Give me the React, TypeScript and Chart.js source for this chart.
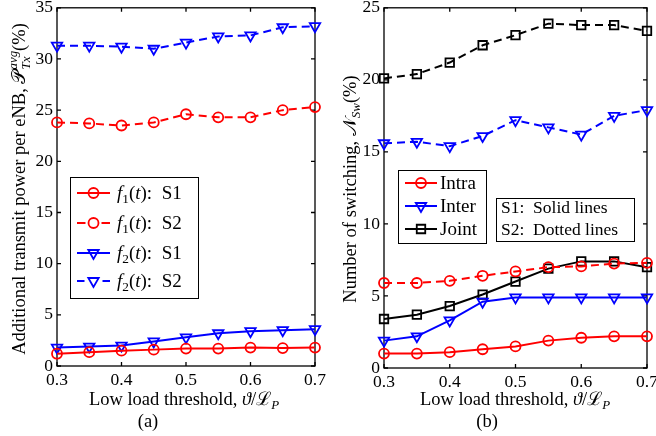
import React, { useEffect, useRef } from 'react';
import { Chart, registerables } from 'chart.js';

Chart.register(...registerables);

// ---------- data ----------
const thresholds = [0.3, 0.35, 0.4, 0.45, 0.5, 0.55, 0.6, 0.65, 0.7];
const xTickValues = [0.3, 0.4, 0.5, 0.6, 0.7];
const yTicksA = [0, 5, 10, 15, 20, 25, 30, 35];
const yTicksB = [0, 5, 10, 15, 20, 25];

// panel (a): additional transmit power per eNB (%)
const f1S1 = [1.2, 1.35, 1.5, 1.6, 1.7, 1.7, 1.8, 1.75, 1.8];
const f1S2 = [23.8, 23.7, 23.5, 23.8, 24.6, 24.3, 24.3, 25.0, 25.3];
const f2S1 = [1.8, 1.9, 2.0, 2.4, 2.8, 3.2, 3.4, 3.5, 3.6];
const f2S2 = [31.3, 31.3, 31.2, 31.0, 31.6, 32.2, 32.3, 33.1, 33.2];

// panel (b): number of switching (%)
const intraS1 = [1.0, 1.0, 1.1, 1.3, 1.5, 1.9, 2.1, 2.2, 2.2];
const intraS2 = [5.9, 5.9, 6.05, 6.4, 6.7, 7.0, 7.05, 7.25, 7.3];
const interS1 = [1.9, 2.2, 3.3, 4.6, 4.9, 4.9, 4.9, 4.9, 4.9];
const interS2 = [15.6, 15.7, 15.4, 16.1, 17.2, 16.7, 16.2, 17.5, 17.9];
const jointS1 = [3.4, 3.7, 4.3, 5.1, 6.0, 6.9, 7.4, 7.4, 7.0];
const jointS2 = [20.1, 20.4, 21.2, 22.4, 23.1, 23.9, 23.8, 23.8, 23.4];

// ---------- styling ----------
const FAM = "'Liberation Serif', 'DejaVu Serif', serif";
const RED = '#ff0000';
const BLUE = '#0000ff';
const BLACK = '#000000';
const DASH = [8, 5];
const TICK_FONT = 17.5;
const TITLE_FONT = 18.5;

type Seg = { t?: string; it?: boolean; sub?: boolean; sup?: boolean; stackSup?: string; stackSub?: string };

function fontStr(size: number, it: boolean) {
  return `${it ? 'italic ' : ''}${size}px ${FAM}`;
}

function segWidth(ctx: CanvasRenderingContext2D, s: Seg, F: number) {
  if (s.stackSup !== undefined) {
    ctx.font = fontStr(F * 0.7, true);
    return Math.max(ctx.measureText(s.stackSup).width, ctx.measureText(s.stackSub || '').width);
  }
  const size = s.sub || s.sup ? F * 0.7 : F;
  ctx.font = fontStr(size, !!s.it);
  return ctx.measureText(s.t || '').width;
}

function drawRich(ctx: CanvasRenderingContext2D, segs: Seg[], x: number, y: number, F: number, align: 'left' | 'center') {
  const widths = segs.map((s) => segWidth(ctx, s, F));
  const total = widths.reduce((a, b) => a + b, 0);
  let cx = align === 'center' ? x - total / 2 : x;
  ctx.textBaseline = 'alphabetic';
  ctx.textAlign = 'left';
  ctx.fillStyle = BLACK;
  segs.forEach((s, i) => {
    if (s.stackSup !== undefined) {
      ctx.font = fontStr(F * 0.7, true);
      ctx.fillText(s.stackSup, cx, y - 0.42 * F);
      ctx.fillText(s.stackSub || '', cx, y + 0.28 * F);
    } else {
      const size = s.sub || s.sup ? F * 0.7 : F;
      ctx.font = fontStr(size, !!s.it);
      const dy = s.sub ? 0.22 * F : s.sup ? -0.4 * F : 0;
      ctx.fillText(s.t || '', cx, y + dy);
    }
    cx += widths[i];
  });
}

function drawMarker(ctx: CanvasRenderingContext2D, style: string, x: number, y: number, r: number, color: string) {
  ctx.save();
  ctx.setLineDash([]);
  ctx.strokeStyle = color;
  ctx.lineWidth = 1.8;
  ctx.beginPath();
  if (style === 'circle') {
    ctx.arc(x, y, r, 0, Math.PI * 2);
  } else if (style === 'triangle') {
    const a = Math.PI; // pointing down
    for (let k = 0; k < 3; k++) {
      const ang = a + (k * 2 * Math.PI) / 3;
      const px = x + Math.sin(ang) * r;
      const py = y - Math.cos(ang) * r;
      if (k === 0) ctx.moveTo(px, py);
      else ctx.lineTo(px, py);
    }
    ctx.closePath();
  } else {
    const s = Math.SQRT1_2 * r;
    ctx.rect(x - s, y - s, 2 * s, 2 * s);
  }
  ctx.stroke();
  ctx.restore();
}

type Series = { label: Seg[]; data: number[]; color: string; dashed: boolean; marker: string; r: number };

type LegendSpec = {
  box: [number, number, number, number];
  rows: number[];
  lineX: [number, number];
  textX: number;
  font: number;
  items: Series[];
};

type Panel = {
  series: Series[];
  yMax: number;
  yTicks: number[];
  canvasW: number;
  padRight: number;
  yWidth: number;
  xHeight: number;
  xTitleCx: number;
  capCx: number;
  caption: string;
  yTitle: Seg[];
  yTitleX: number;
  yTitleCy: number;
  legend: LegendSpec;
  note?: { box: [number, number, number, number]; rows: number[]; textX: number; lines: string[] };
};

const xTitleSegs: Seg[] = [
  { t: 'Low load threshold, ' },
  { t: 'ϑ', it: true },
  { t: '/' },
  { t: 'ℒ' },
  { t: 'P', sub: true, it: true },
];

const seriesA: Series[] = [
  { label: [{ t: 'f', it: true }, { t: '1', sub: true }, { t: '(' }, { t: 't', it: true }, { t: '):  S1' }], data: f1S1, color: RED, dashed: false, marker: 'circle', r: 5 },
  { label: [{ t: 'f', it: true }, { t: '1', sub: true }, { t: '(' }, { t: 't', it: true }, { t: '):  S2' }], data: f1S2, color: RED, dashed: true, marker: 'circle', r: 5 },
  { label: [{ t: 'f', it: true }, { t: '2', sub: true }, { t: '(' }, { t: 't', it: true }, { t: '):  S1' }], data: f2S1, color: BLUE, dashed: false, marker: 'triangle', r: 6 },
  { label: [{ t: 'f', it: true }, { t: '2', sub: true }, { t: '(' }, { t: 't', it: true }, { t: '):  S2' }], data: f2S2, color: BLUE, dashed: true, marker: 'triangle', r: 6 },
];

const seriesB: Series[] = [
  { label: [{ t: 'Intra' }], data: intraS1, color: RED, dashed: false, marker: 'circle', r: 5 },
  { label: [{ t: 'Intra' }], data: intraS2, color: RED, dashed: true, marker: 'circle', r: 5 },
  { label: [{ t: 'Inter' }], data: interS1, color: BLUE, dashed: false, marker: 'triangle', r: 6 },
  { label: [{ t: 'Inter' }], data: interS2, color: BLUE, dashed: true, marker: 'triangle', r: 6 },
  { label: [{ t: 'Joint' }], data: jointS1, color: BLACK, dashed: false, marker: 'rect', r: 6 },
  { label: [{ t: 'Joint' }], data: jointS2, color: BLACK, dashed: true, marker: 'rect', r: 6 },
];

const panelA: Panel = {
  series: seriesA,
  yMax: 35,
  yTicks: yTicksA,
  canvasW: 330,
  padRight: 15,
  yWidth: 57,
  xHeight: 70,
  xTitleCx: 184,
  capCx: 148,
  caption: '(a)',
  yTitle: [
    { t: 'Additional transmit power per eNB, ' },
    { t: '𝒫' },
    { stackSup: 'avg', stackSub: 'Tx' },
    { t: '(%)' },
  ],
  yTitleX: 25,
  yTitleCy: 189,
  legend: {
    box: [70, 177, 198, 298],
    rows: [193, 223, 253, 281],
    lineX: [77, 110],
    textX: 117,
    font: 19,
    items: seriesA,
  },
};

const panelB: Panel = {
  series: seriesB,
  yMax: 25,
  yTicks: yTicksB,
  canvasW: 326,
  padRight: 9,
  yWidth: 54,
  xHeight: 68,
  xTitleCx: 515 - 330,
  capCx: 487 - 330,
  caption: '(b)',
  yTitle: [{ t: 'Number of switching, ' }, { t: '𝒩' }, { t: 'Sw', sub: true, it: true }, { t: '(%)' }],
  yTitleX: 26,
  yTitleCy: 189,
  legend: {
    box: [398 - 330, 170, 486 - 330, 243],
    rows: [183, 206, 229],
    lineX: [405 - 330, 437 - 330],
    textX: 440 - 330,
    font: 19,
    items: [seriesB[0], seriesB[2], seriesB[4]],
  },
  note: {
    box: [496 - 330, 198, 634 - 330, 241],
    rows: [207, 229],
    textX: 501 - 330,
    lines: ['S1:  Solid lines', 'S2:  Dotted lines'],
  },
};

function makeDecorPlugin(p: Panel) {
  return {
    id: 'decor',
    beforeDatasetsDraw(chart: any) {
      const { ctx, chartArea } = chart;
      const { left, right, top, bottom } = chartArea;
      const xs = chart.scales.x;
      const ys = chart.scales.y;
      ctx.save();
      ctx.strokeStyle = BLACK;
      ctx.lineWidth = 1.3;
      ctx.setLineDash([]);
      ctx.strokeRect(left, top, right - left, bottom - top);
      const tl = 4;
      ctx.beginPath();
      xTickValues.forEach((v) => {
        const px = xs.getPixelForValue(v);
        ctx.moveTo(px, bottom);
        ctx.lineTo(px, bottom - tl);
        ctx.moveTo(px, top);
        ctx.lineTo(px, top + tl);
      });
      p.yTicks.forEach((v) => {
        const py = ys.getPixelForValue(v);
        ctx.moveTo(left, py);
        ctx.lineTo(left + tl, py);
        ctx.moveTo(right, py);
        ctx.lineTo(right - tl, py);
      });
      ctx.stroke();
      ctx.restore();
    },
    afterDraw(chart: any) {
      const { ctx } = chart;
      ctx.save();
      drawRich(ctx, xTitleSegs, p.xTitleCx, 405, TITLE_FONT, 'center');
      drawRich(ctx, [{ t: p.caption }], p.capCx, 427, TITLE_FONT, 'center');
      ctx.save();
      ctx.translate(p.yTitleX, p.yTitleCy);
      ctx.rotate(-Math.PI / 2);
      drawRich(ctx, p.yTitle, 0, 0, TITLE_FONT, 'center');
      ctx.restore();

      const L = p.legend;
      ctx.fillStyle = '#ffffff';
      ctx.fillRect(L.box[0], L.box[1], L.box[2] - L.box[0], L.box[3] - L.box[1]);
      ctx.strokeStyle = BLACK;
      ctx.lineWidth = 1;
      ctx.setLineDash([]);
      ctx.strokeRect(L.box[0] + 0.5, L.box[1] + 0.5, L.box[2] - L.box[0], L.box[3] - L.box[1]);
      L.items.forEach((s, i) => {
        const y = L.rows[i];
        ctx.save();
        ctx.strokeStyle = s.color;
        ctx.lineWidth = 2;
        ctx.setLineDash([]);
        ctx.beginPath();
        if (s.dashed) {
          const mid = (L.lineX[0] + L.lineX[1]) / 2;
          ctx.moveTo(L.lineX[0], y);
          ctx.lineTo(mid - s.r - 3, y);
          ctx.moveTo(mid + s.r + 3, y);
          ctx.lineTo(L.lineX[1], y);
        } else {
          ctx.moveTo(L.lineX[0], y);
          ctx.lineTo(L.lineX[1], y);
        }
        ctx.stroke();
        ctx.restore();
        drawMarker(ctx, s.marker, (L.lineX[0] + L.lineX[1]) / 2, y, s.r, s.color);
        drawRich(ctx, s.label, L.textX, y + 6, L.font, 'left');
      });

      if (p.note) {
        const N = p.note;
        ctx.fillStyle = '#ffffff';
        ctx.fillRect(N.box[0], N.box[1], N.box[2] - N.box[0], N.box[3] - N.box[1]);
        ctx.strokeStyle = BLACK;
        ctx.lineWidth = 1;
        ctx.strokeRect(N.box[0] + 0.5, N.box[1] + 0.5, N.box[2] - N.box[0], N.box[3] - N.box[1]);
        N.lines.forEach((line, i) => {
          drawRich(ctx, [{ t: line }], N.textX, N.rows[i] + 6, 17.5, 'left');
        });
      }
      ctx.restore();
    },
  };
}

function buildConfig(p: Panel): any {
  return {
    type: 'line',
    data: {
      datasets: p.series.map((s) => ({
        data: thresholds.map((x, i) => ({ x, y: s.data[i] })),
        borderColor: s.color,
        borderWidth: 2,
        borderDash: s.dashed ? DASH : [],
        backgroundColor: 'rgba(0,0,0,0)',
        pointStyle: s.marker,
        pointRotation: s.marker === 'triangle' ? 180 : 0,
        pointRadius: s.r,
        pointBorderWidth: 1.8,
        pointBorderColor: s.color,
        pointBackgroundColor: 'rgba(0,0,0,0)',
        tension: 0,
        fill: false,
        clip: false,
      })),
    },
    options: {
      animation: false,
      responsive: false,
      maintainAspectRatio: false,
      devicePixelRatio: 1,
      events: [],
      layout: { padding: { top: 7, right: p.padRight, left: 0, bottom: 0 } },
      plugins: { legend: { display: false }, tooltip: { enabled: false }, title: { display: false } },
      scales: {
        x: {
          type: 'linear',
          min: 0.3,
          max: 0.7,
          grid: { display: false, drawTicks: false },
          border: { display: false },
          ticks: {
            color: BLACK,
            font: { family: FAM, size: TICK_FONT },
            padding: 4,
            maxRotation: 0,
            autoSkip: false,
            callback: (v: number) => v.toFixed(1),
          },
          afterBuildTicks: (s: any) => {
            s.ticks = xTickValues.map((v) => ({ value: v }));
          },
          afterFit: (s: any) => {
            s.height = p.xHeight;
            s.paddingLeft = 0;
            s.paddingRight = 0;
          },
        },
        y: {
          type: 'linear',
          min: 0,
          max: p.yMax,
          grid: { display: false, drawTicks: false },
          border: { display: false },
          ticks: {
            color: BLACK,
            font: { family: FAM, size: TICK_FONT },
            padding: 4,
            autoSkip: false,
            callback: (v: number) => String(v),
          },
          afterBuildTicks: (s: any) => {
            s.ticks = p.yTicks.map((v) => ({ value: v }));
          },
          afterFit: (s: any) => {
            s.width = p.yWidth;
            s.paddingTop = 0;
            s.paddingBottom = 0;
          },
        },
      },
    },
    plugins: [makeDecorPlugin(p)],
  };
}

function PanelChart({ panel, left }: { panel: Panel; left: number }) {
  const ref = useRef<HTMLCanvasElement | null>(null);
  useEffect(() => {
    if (!ref.current) return;
    const chart = new Chart(ref.current, buildConfig(panel));
    return () => chart.destroy();
  }, [panel]);
  return (
    <canvas
      ref={ref}
      width={panel.canvasW}
      height={436}
      style={{ position: 'absolute', left, top: 0, width: panel.canvasW, height: 436 }}
    />
  );
}

export default function App() {
  return (
    <div style={{ position: 'fixed', left: 0, top: 0, width: 656, height: 436, background: '#ffffff', overflow: 'hidden' }}>
      <PanelChart panel={panelA} left={0} />
      <PanelChart panel={panelB} left={330} />
    </div>
  );
}
